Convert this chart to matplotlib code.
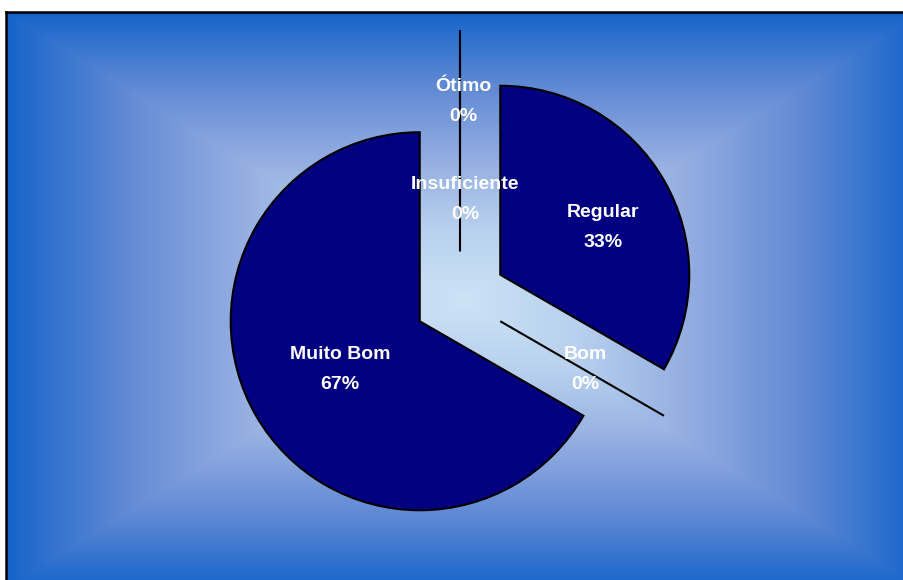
import numpy as np
import matplotlib.pyplot as plt

# dados do gráfico
categorias = ["Insuficiente", "Regular", "Bom", "Muito Bom", "Ótimo"]
valores = [0, 1, 0, 2, 0]

W, H = 904, 580
fig = plt.figure(figsize=(W / 100, H / 100), dpi=100)

# fundo com gradiente retangular (claro no centro, azul nas bordas)
bg = fig.add_axes([0, 0, 1, 1])
bg.set_axis_off()
yy, xx = np.mgrid[0:H, 0:W]
t = np.maximum(np.abs(xx - 463) / 457, np.abs(yy - 300) / 288).clip(0, 1)
paradas = [0.0, 0.25, 0.5, 0.75, 1.0]
r = [204, 184, 146, 95, 20]
g = [226, 208, 172, 136, 100]
b = [245, 238, 225, 212, 202]
img = np.stack([np.interp(t, paradas, c) for c in (r, g, b)], axis=-1) / 255
img[:12, :, :] = 1
img[:, :6, :] = 1
bg.imshow(img, extent=(0, W, H, 0), interpolation="bilinear")
bg.plot([6, 6], [H, 12], color="black", lw=1.8)
bg.plot([6, W], [12, 12], color="black", lw=1.8)
bg.set_xlim(0, W)
bg.set_ylim(H, 0)

# pizza explodida
R = 189
cx, cy = 460, 298
ax = fig.add_axes([0, 0, 1, 1])
ax.patch.set_alpha(0)
explode = [0.246, 0.246, 0.246, 0.246, 0.418]
wedges, _ = ax.pie(
    valores,
    explode=explode,
    startangle=90,
    counterclock=False,
    colors=["#000080"] * len(valores),
    wedgeprops=dict(edgecolor="black", linewidth=1.5),
)

total = sum(valores)
dist = [0.28, 0.606, 0.51, 0.50, 0.62]
ajuste = [(5, -1), (4, -10), (2, 0), (2, -1), (3, 0)]  # em pixels
for w, cat, v, d, (ox, oy) in zip(wedges, categorias, valores, dist, ajuste):
    ang = np.deg2rad((w.theta1 + w.theta2) / 2)
    x0, y0 = w.center
    ax.text(
        x0 + d * np.cos(ang) + ox / R, y0 + d * np.sin(ang) + oy / R,
        f"{cat}\n{round(100 * v / total)}%",
        ha="center", va="center", color="white",
        fontsize=14, fontweight="bold", family="Liberation Sans",
        linespacing=2.0,
    )

ax.set_axis_off()
ax.set_xlim(-cx / R, (W - cx) / R)
ax.set_ylim((cy - H) / R, cy / R)

plt.savefig("out.png", dpi=100)
